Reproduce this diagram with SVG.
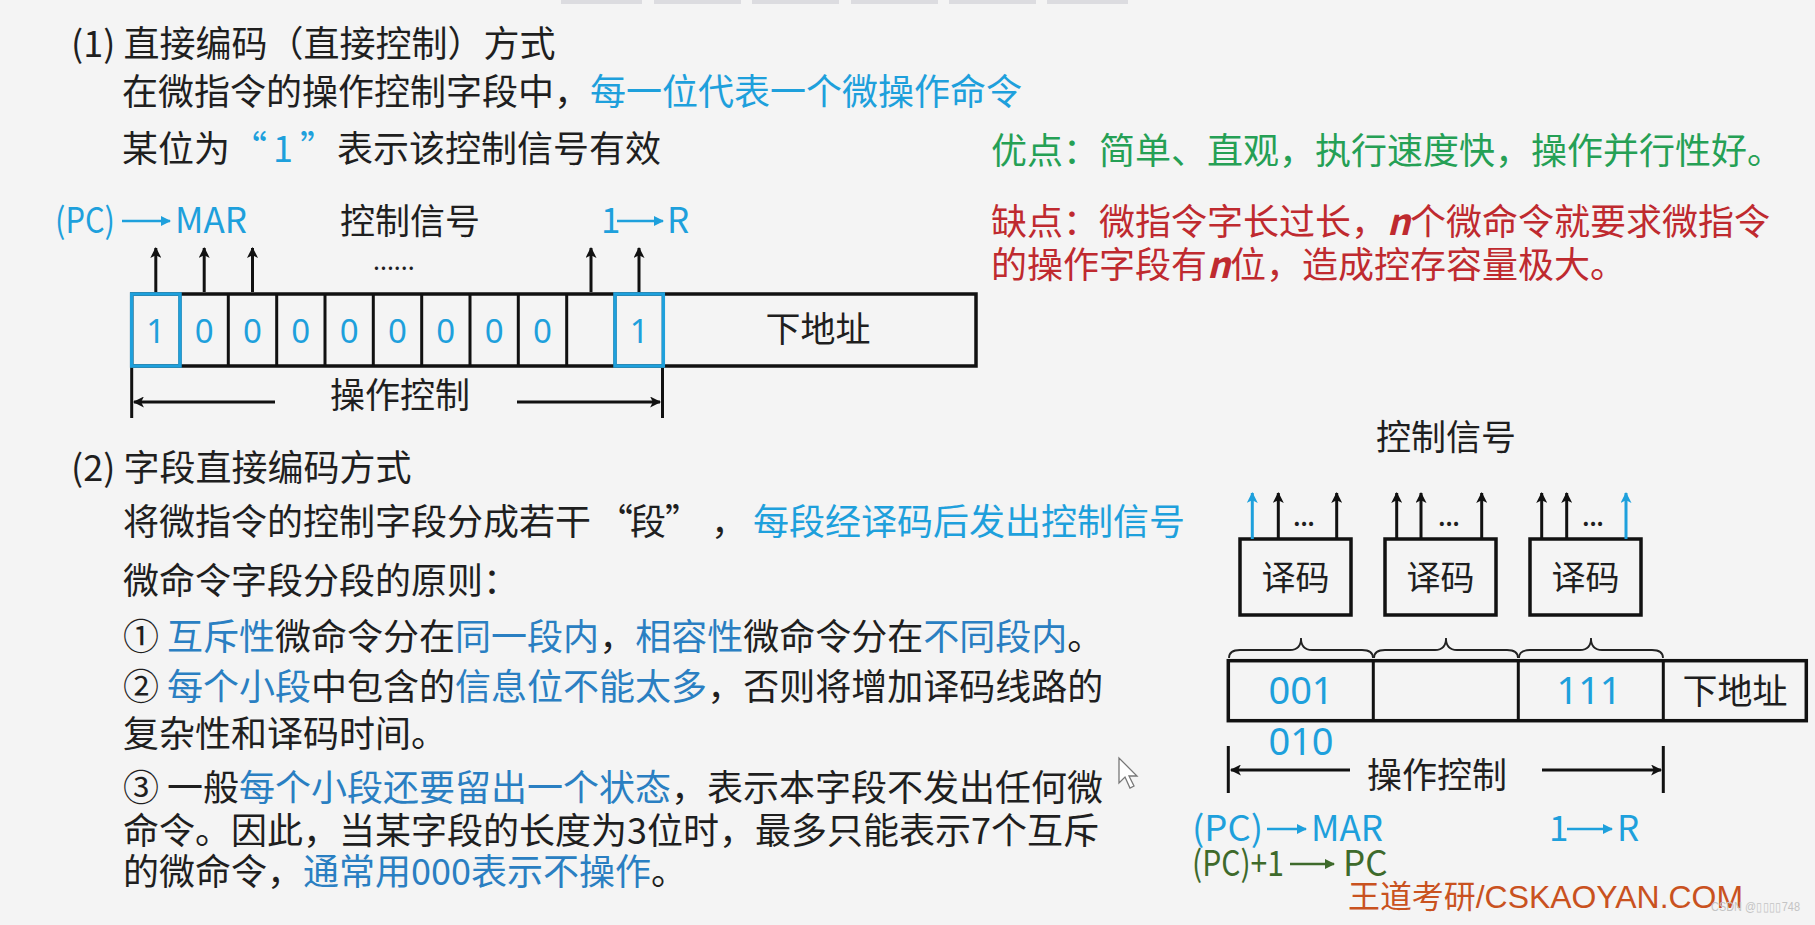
<svg xmlns="http://www.w3.org/2000/svg" width="1815" height="925" viewBox="0 0 1815 925">
<defs>
<style>
.t{font-family:"Noto Sans CJK SC","Noto Sans",sans-serif;font-size:36px;fill:#1f1f1f}
.s35{font-size:35px}
.c{fill:#1ea0dc}
.b{fill:#2a7fc2}
.g{fill:#25a055}
.r{fill:#bf2a2f}
.dg{fill:#3e6a2b}
.num{font-family:"Noto Sans","Open Sans",sans-serif;fill:#1ea0dc}
.box{fill:none;stroke:#111;stroke-width:3.5}
.bbox{fill:none;stroke:#1ea0dc;stroke-width:3.5}
.ln{stroke:#111;stroke-width:3;fill:none}
.lnb{stroke:#1ea0dc;stroke-width:3;fill:none}
.lnc{stroke:#1ea0dc;stroke-width:2.5;fill:none}
.lng{stroke:#3e6a2b;stroke-width:2.5;fill:none}
.br{stroke:#222;stroke-width:1.8;fill:none}
</style>
<marker id="ah" viewBox="0 0 10 10" refX="9" refY="5" markerUnits="userSpaceOnUse" markerWidth="12" markerHeight="11" orient="auto"><path d="M0,0 L10,5 L0,10 L2.5,5 z" fill="#111"/></marker>
<marker id="ahb" viewBox="0 0 10 10" refX="9" refY="5" markerUnits="userSpaceOnUse" markerWidth="12" markerHeight="11" orient="auto"><path d="M0,0 L10,5 L0,10 L2.5,5 z" fill="#1ea0dc"/></marker>
<marker id="ahc" viewBox="0 0 10 10" refX="9" refY="5" markerUnits="userSpaceOnUse" markerWidth="11" markerHeight="10" orient="auto"><path d="M0,0 L10,5 L0,10 z" fill="#1ea0dc"/></marker>
<marker id="ahg" viewBox="0 0 10 10" refX="9" refY="5" markerUnits="userSpaceOnUse" markerWidth="11" markerHeight="10" orient="auto"><path d="M0,0 L10,5 L0,10 z" fill="#3e6a2b"/></marker>
</defs>
<rect width="1815" height="925" fill="#f4f4f4"/>
<g id="topbars" fill="#dcdce0">
<rect x="561" y="0" width="81" height="4"/><rect x="654" y="0" width="87" height="4"/><rect x="752" y="0" width="87" height="4"/><rect x="851" y="0" width="87" height="4"/><rect x="949" y="0" width="87" height="4"/><rect x="1047" y="0" width="81" height="4"/>
</g>

<g id="section1-text">
<text x="71" y="57" class="t">(1) 直接编码（直接控制）方式</text>
<text x="122" y="105" class="t">在微指令的操作控制字段中，<tspan class="c">每一位代表一个微操作命令</tspan></text>
<text x="122" y="162" class="t">某位为<tspan x="231" class="c">“</tspan><tspan x="273" class="c">1</tspan><tspan x="300" class="c">”</tspan><tspan x="337">表示该控制信号有效</tspan></text>
<text x="991" y="164" class="t g">优点：简单、直观，执行速度快，操作并行性好。</text>
<text x="991" y="235" class="t r">缺点：微指令字长过长，<tspan font-style="italic" font-weight="bold">n</tspan>个微命令就要求微指令</text>
<text x="991" y="278" class="t r">的操作字段有<tspan font-style="italic" font-weight="bold">n</tspan>位，造成控存容量极大。</text>
</g>

<g id="reg1-labels">
<text x="55" y="233" class="t s35 c" textLength="60" lengthAdjust="spacingAndGlyphs">(PC)</text>
<text x="175" y="233" class="t s35 c">MAR</text>
<text x="340" y="234" class="t s35">控制信号</text>
<text x="601" y="233" class="t s35 c">1</text>
<text x="667" y="233" class="t s35 c">R</text>
<text x="373" y="270" class="t" style="font-size:25px">......</text>
</g>

<g id="reg1">
<rect x="131.7" y="294" width="844.3" height="72" class="box"/>
<path class="ln" d="M180,294V366M228.3,294V366M276.7,294V366M325,294V366M373.3,294V366M421.7,294V366M470,294V366M518.3,294V366M566.7,294V366M615,294V366M663.3,294V366"/>
<rect x="131.7" y="294" width="48.3" height="72" class="bbox"/>
<rect x="615" y="294" width="48.3" height="72" class="bbox"/>
<g class="num" font-size="33" text-anchor="middle">
<text x="155.8" y="343">1</text><text x="204.2" y="343">0</text><text x="252.5" y="343">0</text><text x="300.8" y="343">0</text><text x="349.2" y="343">0</text><text x="397.5" y="343">0</text><text x="445.8" y="343">0</text><text x="494.2" y="343">0</text><text x="542.5" y="343">0</text><text x="639.2" y="343">1</text>
</g>
<text x="818" y="342" class="t s35" text-anchor="middle">下地址</text>
<text x="400" y="408" class="t s35" text-anchor="middle">操作控制</text>
</g>

<g id="section2-text">
<text x="71" y="481" class="t">(2) 字段直接编码方式</text>
<text x="123" y="535" class="t">将微指令的控制字段分成若干<tspan x="597">“</tspan><tspan x="630">段</tspan><tspan x="665">”</tspan><tspan x="711">，</tspan><tspan x="753" class="c">每段经译码后发出控制信号</tspan></text>
<text x="123" y="594" class="t">微命令字段分段的原则：</text>
<text x="123" y="650" class="t">① <tspan class="b">互斥性</tspan>微命令分在<tspan class="b">同一段内</tspan>，<tspan class="b">相容性</tspan>微命令分在<tspan class="b">不同段内</tspan>。</text>
<text x="123" y="700" class="t">② <tspan class="b">每个小段</tspan>中包含的<tspan class="b">信息位不能太多</tspan>，否则将增加译码线路的</text>
<text x="123" y="747" class="t">复杂性和译码时间。</text>
<text x="123" y="801" class="t">③ 一般<tspan class="b">每个小段还要留出一个状态</tspan>，表示本字段不发出任何微</text>
<text x="123" y="844" class="t">命令。因此，当某字段的长度为3位时，最多只能表示7个互斥</text>
<text x="123" y="885" class="t">的微命令，<tspan class="b">通常用000表示不操作</tspan>。</text>
</g>
<path id="cursor" d="M1119,758 L1119,783 L1125,777 L1130,788 L1134,786 L1129,776 L1137,776 Z" fill="#fff" stroke="#777" stroke-width="1.3"/>

<g id="reg2-labels">
<text x="1446" y="450" class="t s35" text-anchor="middle">控制信号</text>
</g>

<g id="dec1">
<rect x="1240" y="539" width="111" height="76" class="box"/>
<text x="1295.5" y="590" class="t" style="font-size:34px" text-anchor="middle">译码</text>
<text x="1304" y="526" class="t" style="font-size:22px;font-weight:bold" text-anchor="middle">...</text>
</g>
<g id="dec2">
<rect x="1385" y="539" width="111" height="76" class="box"/>
<text x="1440.5" y="590" class="t" style="font-size:34px" text-anchor="middle">译码</text>
<text x="1449" y="526" class="t" style="font-size:22px;font-weight:bold" text-anchor="middle">...</text>
</g>
<g id="dec3">
<rect x="1530" y="539" width="111" height="76" class="box"/>
<text x="1585.5" y="590" class="t" style="font-size:34px" text-anchor="middle">译码</text>
<text x="1593" y="526" class="t" style="font-size:22px;font-weight:bold" text-anchor="middle">...</text>
</g>

<g id="reg2">
<rect x="1228.3" y="660.7" width="578" height="60" class="box"/>
<path class="ln" d="M1373.3,660.7V720.7M1518.3,660.7V720.7M1663.3,660.7V720.7"/>
<text x="1301" y="704" class="num" font-size="38" text-anchor="middle">001</text>
<text x="1589" y="704" class="num" font-size="38" text-anchor="middle">111</text>
<text x="1735" y="704" class="t s35" text-anchor="middle">下地址</text>
<text x="1301" y="755" class="num dg" font-size="38" text-anchor="middle">010</text>
<text x="1437" y="788" class="t s35" text-anchor="middle">操作控制</text>
</g>

<g id="reg2-bottom-labels">
<text x="1192" y="841" class="t s35 c" textLength="71" lengthAdjust="spacingAndGlyphs">(PC)</text>
<text x="1311" y="841" class="t s35 c">MAR</text>
<text x="1549" y="841" class="t s35 c">1</text>
<text x="1617" y="841" class="t s35 c">R</text>
<text x="1192" y="876" class="t s35 dg" textLength="92" lengthAdjust="spacingAndGlyphs">(PC)+1</text>
<text x="1343" y="876" class="t s35 dg">PC</text>
</g>

<g id="watermark">
<text x="1348" y="908" style="font-family:'Liberation Sans','Noto Sans CJK SC',sans-serif;font-size:32px;fill:#c9521f" textLength="395" lengthAdjust="spacingAndGlyphs">王道考研/CSKAOYAN.COM</text>
<text x="1711" y="911" style="font-family:'Liberation Sans',sans-serif;font-size:12px;fill:#c4c4c4" textLength="89" lengthAdjust="spacingAndGlyphs">CSDN @▯▯▯▯748</text>
</g>

<g id="connectors">
<path class="ln" marker-end="url(#ah)" d="M155.8,292V248"/>
<path class="ln" marker-end="url(#ah)" d="M204.2,292V248"/>
<path class="ln" marker-end="url(#ah)" d="M252.5,292V248"/>
<path class="ln" marker-end="url(#ah)" d="M591,292V248"/>
<path class="ln" marker-end="url(#ah)" d="M639,292V248"/>
<path class="lnc" marker-end="url(#ahc)" d="M122,221H170"/>
<path class="lnc" marker-end="url(#ahc)" d="M617,221H663"/>
<path class="ln" d="M131.7,368V418M662.5,368V418"/>
<path class="ln" marker-end="url(#ah)" d="M275,402H134"/>
<path class="ln" marker-end="url(#ah)" d="M517,402H660"/>
<path class="lnb" marker-end="url(#ahb)" d="M1252.3,539V493"/>
<path class="ln" marker-end="url(#ah)" d="M1278.3,539V493"/>
<path class="ln" marker-end="url(#ah)" d="M1336.7,539V493"/>
<path class="ln" marker-end="url(#ah)" d="M1396.7,539V493"/>
<path class="ln" marker-end="url(#ah)" d="M1421,539V493"/>
<path class="ln" marker-end="url(#ah)" d="M1481.7,539V493"/>
<path class="ln" marker-end="url(#ah)" d="M1541.7,539V493"/>
<path class="ln" marker-end="url(#ah)" d="M1566.7,539V493"/>
<path class="lnb" marker-end="url(#ahb)" d="M1626,539V493"/>
<path class="br" d="M1229,658 Q1229,650 1240,650 H1290 Q1301,650 1301,638 Q1301,650 1312,650 H1362 Q1373,650 1373,658"/>
<path class="br" d="M1374,658 Q1374,650 1385,650 H1435 Q1446,650 1446,638 Q1446,650 1457,650 H1507 Q1518,650 1518,658"/>
<path class="br" d="M1519,658 Q1519,650 1530,650 H1580 Q1591,650 1591,638 Q1591,650 1602,650 H1652 Q1663,650 1663,658"/>
<path class="ln" d="M1228.3,746V793M1663.3,746V793"/>
<path class="ln" marker-end="url(#ah)" d="M1350,770H1231"/>
<path class="ln" marker-end="url(#ah)" d="M1542,770H1661"/>
<path class="lnc" marker-end="url(#ahc)" d="M1267,829H1306"/>
<path class="lnc" marker-end="url(#ahc)" d="M1567,829H1612"/>
<path class="lng" marker-end="url(#ahg)" d="M1290,864H1334"/>
</g>
</svg>
